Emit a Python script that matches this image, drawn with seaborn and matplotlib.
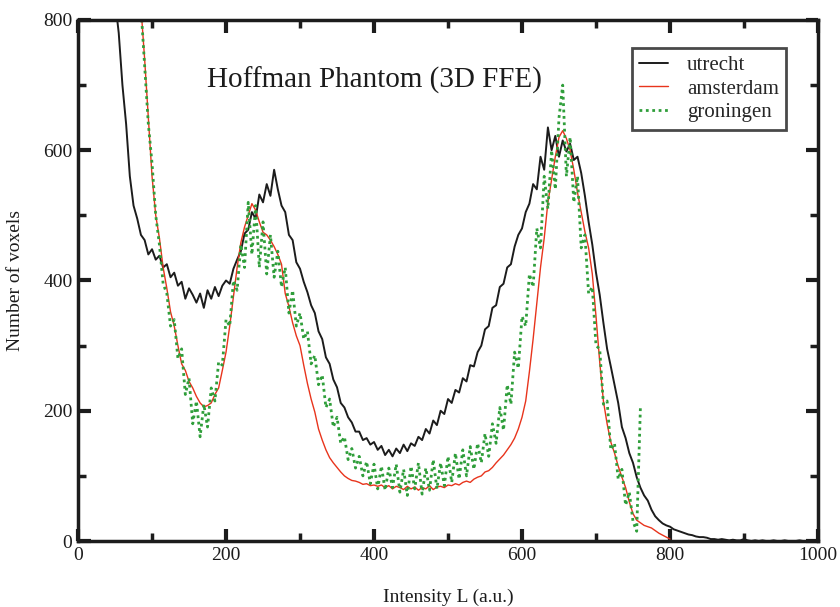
import numpy as np
import pandas as pd
import seaborn as sns
import matplotlib.pyplot as plt
from matplotlib.ticker import MultipleLocator

# histogram counts, bins of 5 intensity units
utrecht_start = 50
utrecht = [830, 780, 700, 640, 560, 515, 495, 470, 462, 440,
           448, 432, 438, 420, 425, 405, 412, 392, 398, 372,
           388, 378, 366, 380, 358, 385, 372, 390, 376, 392,
           400, 395, 418, 432, 445, 472, 478, 505, 495, 532,
           520, 548, 530, 570, 540, 515, 505, 470, 462, 428,
           418, 398, 382, 362, 350, 322, 310, 282, 272, 248,
           236, 212, 205, 190, 182, 168, 168, 155, 158, 148,
           152, 140, 146, 132, 140, 130, 142, 135, 148, 138,
           150, 146, 160, 155, 172, 165, 185, 178, 200, 195,
           218, 212, 232, 228, 250, 245, 270, 268, 290, 300,
           325, 330, 358, 362, 390, 395, 420, 425, 452, 470,
           480, 505, 518, 548, 540, 590, 570, 635, 600, 622,
           590, 615, 598, 610, 585, 590, 565, 530, 490, 455,
           412, 378, 335, 295, 268, 240, 212, 175, 158, 135,
           120, 98, 82, 70, 62, 48, 38, 32, 27, 24,
           22, 18, 16, 14, 12, 10, 9, 7, 6, 6,
           5, 3, 3, 2, 3, 2, 1, 2, 1, 1,
           3, 1, 0, 1, 0, 1, 0, 0, 1, 0,
           0, 1, 0, 0, 0, 1, 0, 0, 0, 0, 0]

amsterdam_start = 85
amsterdam = [820, 740, 650, 560, 500, 465, 420, 388, 352, 330,
             300, 272, 262, 245, 235, 222, 212, 206, 208, 212,
             225, 235, 262, 290, 330, 375, 420, 458, 482, 500,
             518, 508, 490, 474, 470, 462, 452, 440, 425, 380,
             360, 335, 315, 300, 270, 242, 218, 198, 172, 155,
             140, 128, 120, 113, 106, 100, 96, 93, 92, 90,
             87, 88, 85, 86, 84, 86, 82, 85, 80, 84,
             82, 79, 84, 80, 83, 78, 82, 80, 85, 79,
             83, 84, 82, 86, 85, 88, 86, 90, 92, 90,
             95, 98, 100, 106, 108, 113, 120, 126, 132, 140,
             148, 158, 172, 190, 215, 260, 310, 365, 420, 465,
             520, 555, 590, 620, 630, 618, 600, 570, 535, 505,
             475, 450, 410, 345, 275, 215, 180, 152, 135, 115,
             98, 82, 60, 42, 32, 28, 24, 22, 20, 16,
             12, 9, 6, 3]

groningen_start = 85
groningen = [820, 730, 640, 580, 500, 455, 395, 380, 330, 340,
             280, 295, 225, 250, 180, 215, 160, 210, 175, 235,
             215, 275, 270, 340, 330, 400, 385, 455, 420, 520,
             440, 515, 420, 490, 410, 470, 405, 445, 390, 420,
             350, 385, 330, 350, 310, 322, 272, 285, 240, 255,
             205, 218, 175, 190, 150, 160, 125, 142, 112, 130,
             100, 122, 88, 118, 80, 115, 78, 112, 82, 118,
             75, 110, 70, 115, 80, 120, 72, 112, 78, 125,
             80, 120, 85, 130, 90, 135, 95, 140, 100, 145,
             110, 150, 120, 165, 130, 180, 150, 205, 170, 240,
             210, 290, 265, 345, 330, 410, 390, 480, 450, 560,
             510, 600, 540, 650, 700, 560, 620, 520, 560, 450,
             470, 380, 390, 300, 295, 210, 215, 140, 150, 95,
             110, 55, 75, 30, 15, 205]

bin_width = 5


def series(start, counts):
    return pd.DataFrame({"L": start + bin_width * np.arange(len(counts)),
                         "n": counts})


sns.set_theme(style="ticks")
plt.rcParams["font.family"] = ["Liberation Serif", "DejaVu Serif"]

fig = plt.figure(figsize=(8.4, 6.07), dpi=100)
ax = fig.add_axes([0.0929, 0.1087, 0.8809, 0.8584])

sns.lineplot(data=series(utrecht_start, utrecht), x="L", y="n", ax=ax,
             color="#1c1c1c", lw=1.4, label="utrecht",
             estimator=None, sort=False)
sns.lineplot(data=series(amsterdam_start, amsterdam), x="L", y="n", ax=ax,
             color="#e8341c", lw=1.0, label="amsterdam",
             estimator=None, sort=False)
sns.lineplot(data=series(groningen_start, groningen), x="L", y="n", ax=ax,
             color="#2f9e3a", lw=2.0, ls=(0, (1, 1.3)), label="groningen",
             estimator=None, sort=False)

ax.set_xlim(0, 1000)
ax.set_ylim(0, 800)
ax.xaxis.set_major_locator(MultipleLocator(200))
ax.xaxis.set_minor_locator(MultipleLocator(100))
ax.yaxis.set_major_locator(MultipleLocator(200))
ax.yaxis.set_minor_locator(MultipleLocator(100))
ax.tick_params(which="both", direction="in", top=True, right=True,
               colors="#1c1c1c", labelsize=14, pad=4)
ax.tick_params(which="major", length=9, width=3)
ax.tick_params(which="minor", length=6, width=2.5)
for s in ax.spines.values():
    s.set_linewidth(2.5)
    s.set_color("#1c1c1c")

ax.set_xlabel("Intensity L (a.u.)", fontsize=14, labelpad=18, color="#1c1c1c")
ax.set_ylabel("Number of voxels", fontsize=14, labelpad=14, color="#1c1c1c")

ax.text(0.401, 0.885, "Hoffman Phantom (3D FFE)", transform=ax.transAxes,
        ha="center", va="center", fontsize=21, color="#1c1c1c")

leg = ax.legend(loc="upper right", bbox_to_anchor=(0.957, 0.946),
                fontsize=15, frameon=True, fancybox=False, handlelength=1.4,
                handletextpad=0.9, borderpad=0.35, labelspacing=0.2,
                borderaxespad=0)
leg.get_frame().set_edgecolor("#1c1c1c")
leg.get_frame().set_linewidth(2)

fig.savefig("out.png", dpi=100)
